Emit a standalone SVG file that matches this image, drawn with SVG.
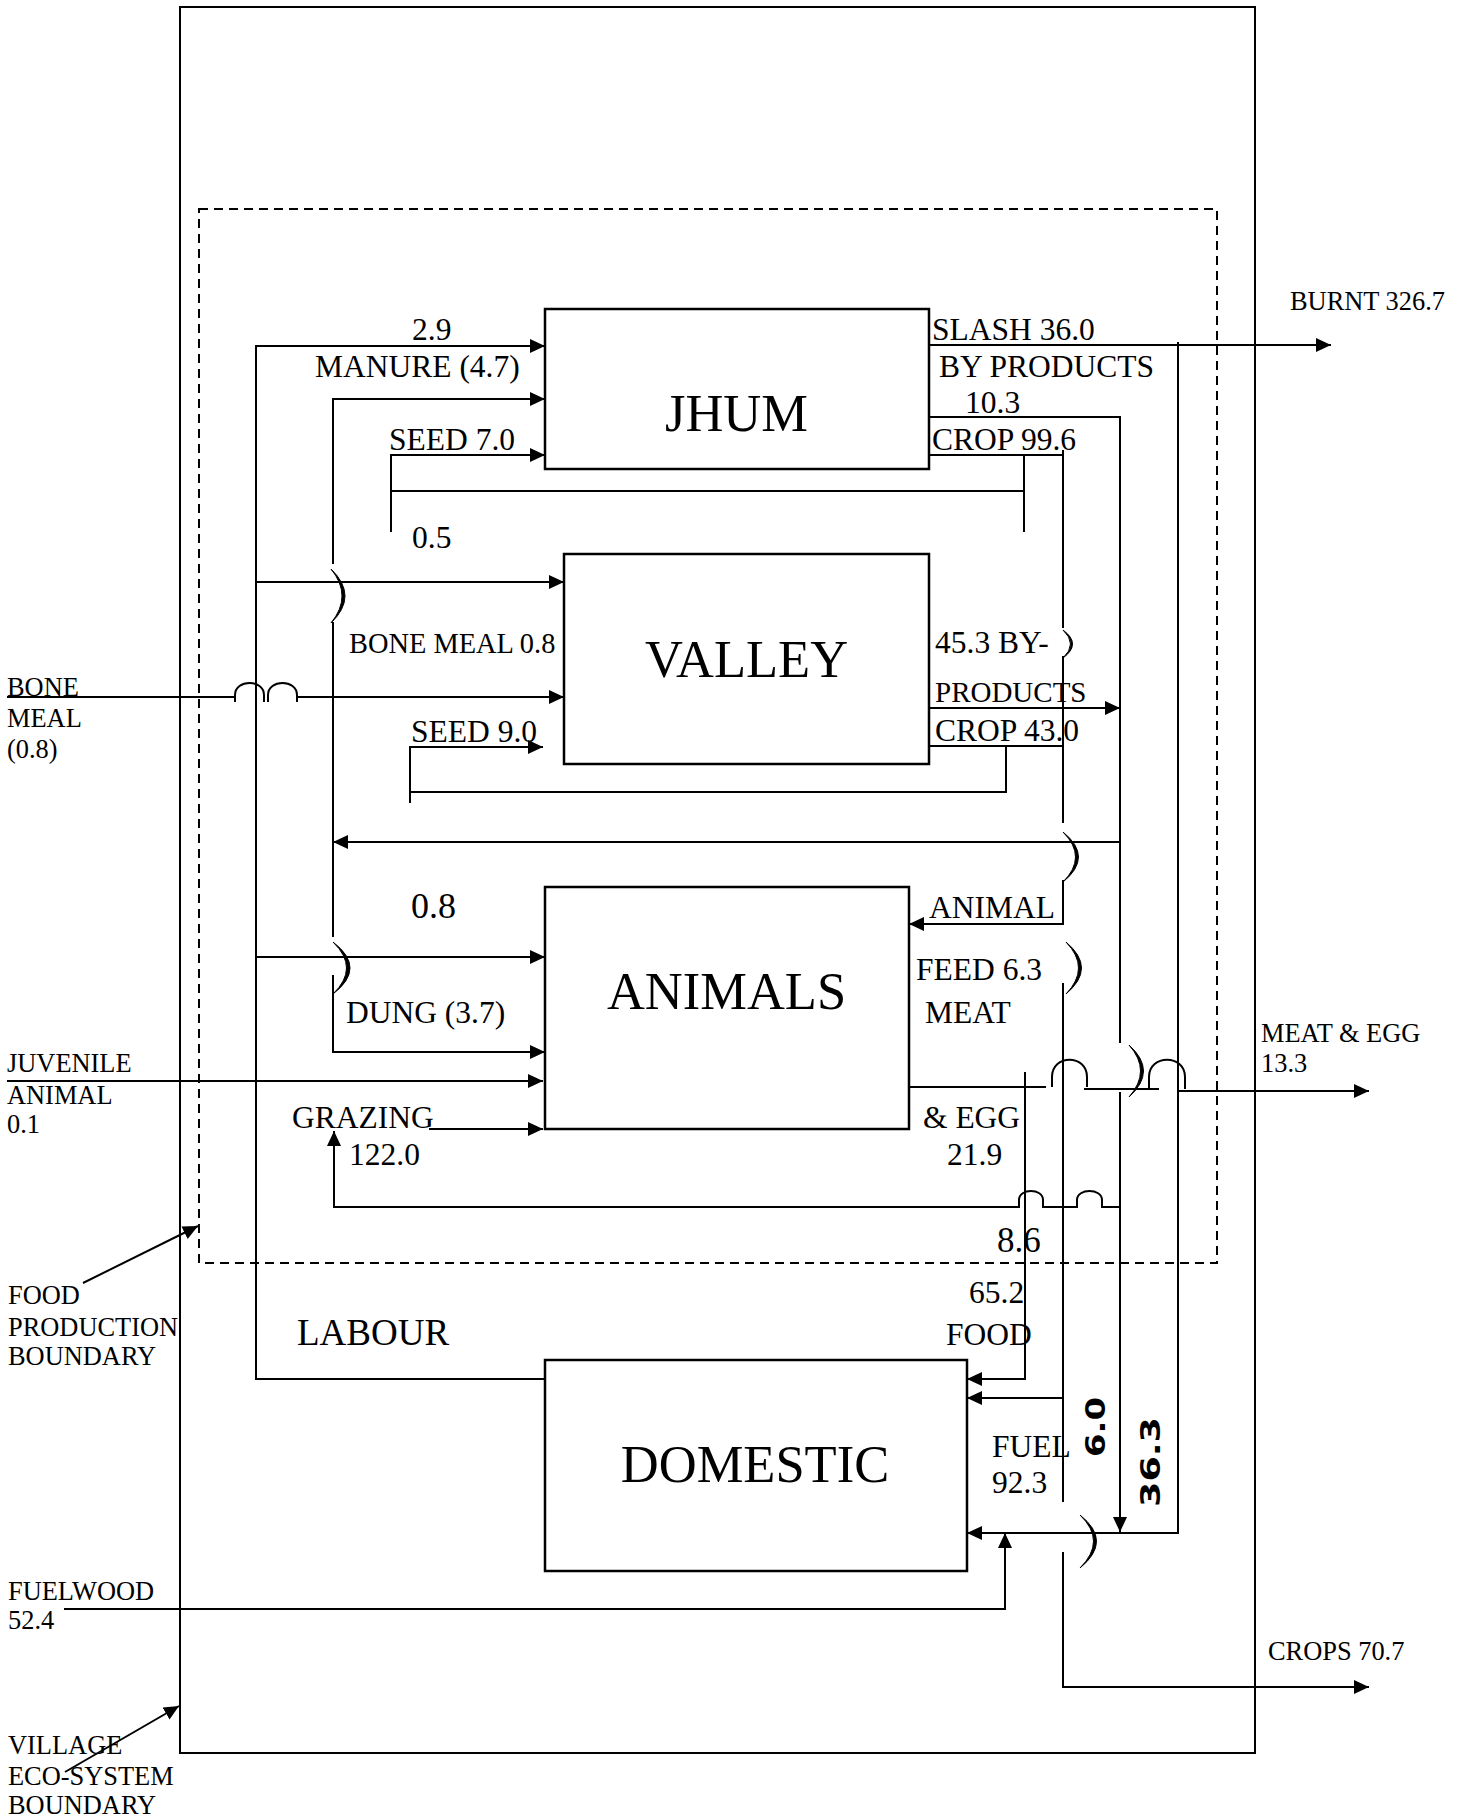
<svg xmlns="http://www.w3.org/2000/svg" width="1466" height="1819" viewBox="0 0 1466 1819">
<defs>
<marker id="ah" markerUnits="userSpaceOnUse" markerWidth="16" markerHeight="14" refX="15" refY="7" orient="auto"><path d="M0,0 L15,7 L0,14 z" fill="#000"/></marker>
<style>
.c{fill:none;stroke:#000;stroke-width:2}
.a{marker-end:url(#ah)}
.h{fill:#000;stroke:#000;stroke-width:1}
.box{fill:#fff;stroke:#000;stroke-width:2.5}
.t{font-family:"Liberation Serif","Times New Roman",serif;fill:#000;font-size:31.5px}
.s{font-size:26.4px}
.n{font-size:52.5px;text-anchor:middle}
.r{font-family:"DejaVu Sans",sans-serif;font-weight:bold;font-size:26px;text-anchor:middle;fill:#000}
</style>
</defs>
<rect width="1466" height="1819" fill="#fff"/>
<g id="village-boundary"><rect x="180" y="7" width="1075" height="1746" fill="none" stroke="#000" stroke-width="2"/></g>
<g id="food-production-boundary"><rect x="199" y="209" width="1018" height="1054" fill="none" stroke="#000" stroke-width="2" stroke-dasharray="9 6"/></g>

<g id="connectors">
<path class="c a" d="M545,1379 H256 V346 H545"/>
<path class="c a" d="M256,582 H564"/>
<path class="c a" d="M256,957 H545"/>
<path class="c a" d="M333,564 V399 H545"/>
<path class="c" d="M333,622 V937"/>
<path class="c a" d="M333,975 V1052 H545"/>
<path class="h" d="M331,569 Q359,596 331,623 Q353,596 331,569 z"/>
<path class="h" d="M333,942 Q367,968 333,994 Q360,968 333,942 z"/>
<path class="c a" d="M391,532 V455 H545"/>
<path class="c" d="M391,491 H1024"/>
<path class="c" d="M1024,455 V532"/>
<path class="c" d="M929,455 H1063"/>
<path class="c" d="M1063,450 V628"/>
<path class="h" d="M1063,630 Q1082,644 1063,658 Q1078,644 1063,630 z"/>
<path class="c" d="M1063,656 V823"/>
<path class="h" d="M1063,832 Q1094,857 1063,882 Q1088,857 1063,832 z"/>
<path class="c a" d="M1063,880 V924 H909"/>
<path class="h" d="M1066,942 Q1097,968 1066,994 Q1091,968 1066,942 z"/>
<path class="c" d="M1063,983 V1502"/>
<path class="c a" d="M1063,1398 H967"/>
<path class="h" d="M1080,1515 Q1113,1541 1080,1568 Q1107,1541 1080,1515 z"/>
<path class="c a" d="M1063,1552 V1687 H1369"/>
<path class="c" d="M929,746 H1063"/>
<path class="c" d="M1006,746 V792 H410"/>
<path class="c a" d="M410,803 V747 H543"/>
<path class="c a" d="M929,345 H1331"/>
<path class="c" d="M929,417 H1120 V1043"/>
<path class="c a" d="M1120,1092 V1532"/>
<path class="c a" d="M929,708 H1120"/>
<path class="c a" d="M1120,842 H333"/>
<path class="c" d="M909,1087 H1046"/>
<path class="c" d="M1052,1087 V1077 C1052,1054 1087,1054 1087,1077 V1087"/>
<path class="c" d="M1084,1089 H1159"/>
<path class="h" d="M1129,1045 Q1158,1071 1129,1097 Q1152,1071 1129,1045 z"/>
<path class="c" d="M1149,1089 V1077 C1149,1054 1185,1054 1185,1077 V1089"/>
<path class="c a" d="M1178,1091 H1369"/>
<path class="c a" d="M1025,1072 V1379 H967"/>
<path class="c a" d="M429,1129 H543"/>
<path class="c a" d="M1120,1207 H1102 V1200 C1102,1188 1077,1188 1077,1200 V1207 H1043 V1200 C1043,1188 1019,1188 1019,1200 V1207 H334 V1131"/>
<path class="c a" d="M1178,342 V1533 H967"/>
<path class="c a" d="M64,1609 H1005 V1533"/>
<path class="c" d="M7,697 H235"/>
<path class="c" d="M235,702 V695 C235,679 264,679 264,695 V702"/>
<path class="c" d="M268,702 V695 C268,679 297,679 297,695 V702"/>
<path class="c a" d="M297,697 H564"/>
<path class="c a" d="M7,1081 H543"/>
<path class="c a" d="M83,1283 L198,1226"/>
<path class="c a" d="M65,1772 L179,1706"/>
</g>

<g id="jhum"><rect class="box" x="545" y="309" width="384" height="160"/><text class="t n" x="736.5" y="431">JHUM</text></g>
<g id="valley"><rect class="box" x="564" y="554" width="365" height="210"/><text class="t n" x="746.5" y="677">VALLEY</text></g>
<g id="animals"><rect class="box" x="545" y="887" width="364" height="242"/><text class="t n" x="726.5" y="1009">ANIMALS</text></g>
<g id="domestic"><rect class="box" x="545" y="1360" width="422" height="211"/><text class="t n" x="755" y="1482">DOMESTIC</text></g>

<g id="labels">
<text class="t" x="412" y="340">2.9</text>
<text class="t" x="315" y="377">MANURE (4.7)</text>
<text class="t" x="389" y="450">SEED 7.0</text>
<text class="t" x="412" y="548">0.5</text>
<text class="t" x="349" y="653" style="font-size:28.4px">BONE MEAL 0.8</text>
<text class="t" x="411" y="742">SEED 9.0</text>
<text class="t" x="411" y="918" style="font-size:36px">0.8</text>
<text class="t" x="346" y="1023">DUNG (3.7)</text>
<text class="t" x="292" y="1128">GRAZING</text>
<text class="t" x="349" y="1165">122.0</text>
<text class="t" x="297" y="1345" style="font-size:37px">LABOUR</text>
<text class="t" x="932" y="340">SLASH 36.0</text>
<text class="t" x="939" y="377">BY PRODUCTS</text>
<text class="t" x="965" y="413">10.3</text>
<text class="t" x="932" y="450">CROP 99.6</text>
<text class="t" x="935" y="653">45.3 BY-</text>
<text class="t" x="935" y="702" style="font-size:29px">PRODUCTS</text>
<text class="t" x="935" y="741">CROP 43.0</text>
<text class="t" x="929" y="918">ANIMAL</text>
<text class="t" x="916" y="980">FEED 6.3</text>
<text class="t" x="925" y="1023">MEAT</text>
<text class="t" x="923" y="1128">&amp; EGG</text>
<text class="t" x="947" y="1165">21.9</text>
<text class="t" x="997" y="1252" style="font-size:35px">8.6</text>
<text class="t" x="969" y="1303">65.2</text>
<text class="t" x="946" y="1345">FOOD</text>
<text class="t" x="992" y="1457">FUEL</text>
<text class="t" x="992" y="1493">92.3</text>
<text class="r" transform="translate(1095,1427) rotate(-90)" y="9.5" textLength="60" lengthAdjust="spacingAndGlyphs">6.0</text>
<text class="r" transform="translate(1150,1462) rotate(-90)" y="9.5" textLength="90" lengthAdjust="spacingAndGlyphs">36.3</text>
<text class="t s" x="1290" y="310">BURNT 326.7</text>
<text class="t s" x="1261" y="1042">MEAT &amp; EGG</text>
<text class="t s" x="1261" y="1072">13.3</text>
<text class="t s" x="1268" y="1660">CROPS 70.7</text>
<text class="t s" x="7" y="696">BONE</text>
<text class="t s" x="7" y="727">MEAL</text>
<text class="t s" x="7" y="758">(0.8)</text>
<text class="t s" x="7" y="1072">JUVENILE</text>
<text class="t s" x="7" y="1104">ANIMAL</text>
<text class="t s" x="7" y="1133">0.1</text>
<text class="t s" x="8" y="1304">FOOD</text>
<text class="t s" x="8" y="1336">PRODUCTION</text>
<text class="t s" x="8" y="1365">BOUNDARY</text>
<text class="t s" x="8" y="1600">FUELWOOD</text>
<text class="t s" x="8" y="1629">52.4</text>
<text class="t s" x="8" y="1754">VILLAGE</text>
<text class="t s" x="8" y="1785">ECO-SYSTEM</text>
<text class="t s" x="8" y="1814">BOUNDARY</text>
</g>
</svg>
